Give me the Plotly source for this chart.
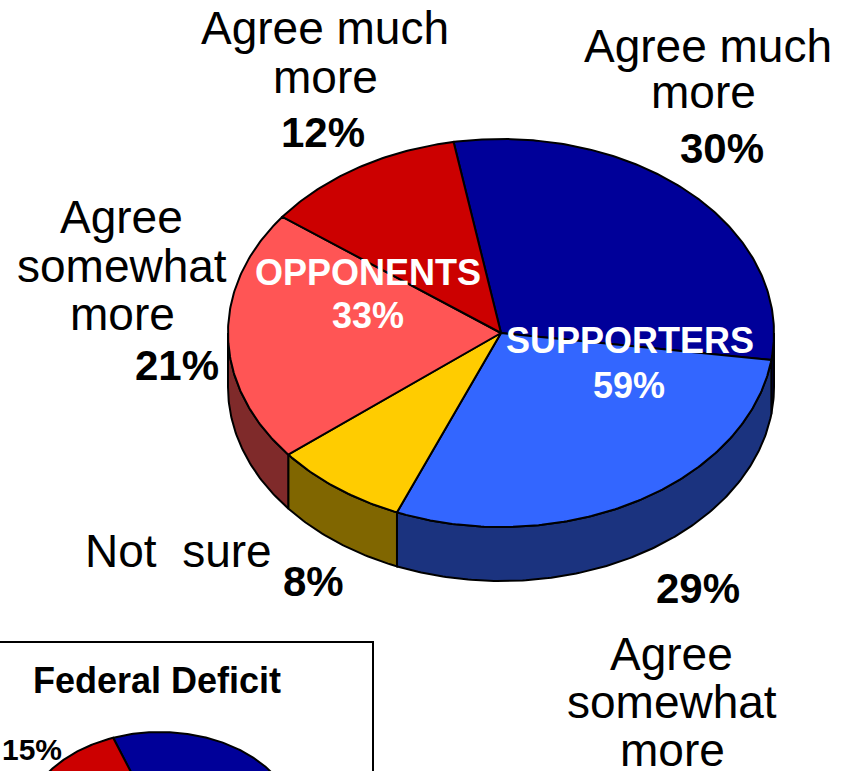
import numpy as np
import plotly.graph_objects as go

# ---- main pie data (clockwise from the top) ----
main_labels = ["Agree much more", "Agree somewhat more", "Not sure",
               "Agree somewhat more", "Agree much more"]
main_values = [30, 29, 8, 21, 12]
main_top_colors = ["#000099", "#3366FF", "#FFCC00", "#FF5555", "#CC0000"]
main_side_colors = ["#00005C", "#1B337F", "#806600", "#7F2A2A", "#660000"]

group_labels = ["SUPPORTERS", "OPPONENTS"]
group_values = [59, 33]

# ---- inset pie data ----
inset_title = "Federal Deficit"
inset_values = [54, 31, 15]
inset_top_colors = ["#000099", "#FF5555", "#CC0000"]
inset_side_colors = ["#00005C", "#7F2A2A", "#660000"]

W, H = 841, 771
FONT = "Liberation Sans, Arial, sans-serif"


def pie3d(fig, values, tops, sides, cx, cy, rx, ry, depth, start):
    """Tilted pie: top faces plus the visible front rim."""
    total = float(sum(values))
    edges = [start]
    for v in values:
        edges.append(edges[-1] - 360.0 * v / total)

    def arc(a, b, dy=0.0, n=None):
        n = n or max(4, int(abs(a - b) * 1.5))
        t = np.radians(np.linspace(a, b, n))
        return cx + rx * np.cos(t), cy - ry * np.sin(t) + dy

    # rim: only where the edge faces the viewer (sin t <= 0)
    for i in range(len(values)):
        s, e = edges[i], edges[i + 1]
        for k in (-1, 0, 1):
            lo = max(e, -180 + 360 * k)
            hi = min(s, 0 + 360 * k)
            if hi - lo > 1e-6:
                x1, y1 = arc(hi, lo)
                x2, y2 = arc(lo, hi, dy=depth)
                xs = np.concatenate([x1, x2, x1[:1]])
                ys = np.concatenate([y1, y2, y1[:1]])
                fig.add_trace(go.Scatter(
                    x=xs, y=ys, mode="lines", fill="toself",
                    fillcolor=sides[i], line=dict(color="black", width=2),
                    hoverinfo="skip", showlegend=False))
    # top faces
    for i in range(len(values)):
        x1, y1 = arc(edges[i], edges[i + 1])
        xs = np.concatenate([[cx], x1, [cx]])
        ys = np.concatenate([[cy], y1, [cy]])
        fig.add_trace(go.Scatter(
            x=xs, y=ys, mode="lines", fill="toself",
            fillcolor=tops[i], line=dict(color="black", width=2),
            hoverinfo="skip", showlegend=False))


fig = go.Figure()

# inset frame
fig.add_shape(type="rect", x0=-3, y0=642, x1=373, y1=H + 5,
              line=dict(color="black", width=2), fillcolor="white", layer="below")

pie3d(fig, main_values, main_top_colors, main_side_colors,
      cx=501, cy=333, rx=273, ry=194, depth=54, start=100)
pie3d(fig, inset_values, inset_top_colors, inset_side_colors,
      cx=160, cy=828, rx=137, ry=96, depth=27, start=110)

annotations = []


def label(text, x, baseline, size, bold=False, color="black", anchor="center"):
    t = f"<b>{text}</b>" if bold else text
    annotations.append(dict(
        text=t, x=x, y=baseline - 0.35 * size, xref="x", yref="y",
        xanchor=anchor, yanchor="middle", showarrow=False,
        font=dict(family=FONT, size=size, color=color)))


L, B, G = 46, 42, 36
# top-left slice
label("Agree much", 325, 44, L)
label("more", 325, 93, L)
label(f"{main_values[4]}%", 323, 147, B, bold=True)
# top-right slice
label("Agree much", 708, 62, L)
label("more", 703, 108, L)
label(f"{main_values[0]}%", 722, 163, B, bold=True)
# left slice
label("Agree", 121, 233, L)
label("somewhat", 122, 282, L)
label("more", 122, 330, L)
label(f"{main_values[3]}%", 177, 380, B, bold=True)
# not sure
label("Not&nbsp;&nbsp;sure", 178, 567, L)
label(f"{main_values[2]}%", 313, 596, B, bold=True)
# bottom-right slice
label(f"{main_values[1]}%", 698, 603, B, bold=True)
label("Agree", 671, 670, L)
label("somewhat", 672, 718, L)
label("more", 672, 766, L)
# group totals
label(group_labels[1], 368, 285, G, bold=True, color="white")
label(f"{group_values[1]}%", 368, 328, G, bold=True, color="white")
label(group_labels[0], 630, 353, G, bold=True, color="white")
label(f"{group_values[0]}%", 629, 398, G, bold=True, color="white")
# inset
label(inset_title, 157, 693, 36, bold=True)
label(f"{inset_values[2]}%", 32, 760, 30, bold=True)
label(f"{inset_values[0]}%", 321, 786, 30, bold=True)
label("OPPONENTS", 64, 784, 24, bold=True, color="white", anchor="left")

fig.update_layout(
    width=W, height=H, margin=dict(l=0, r=0, t=0, b=0),
    paper_bgcolor="white", plot_bgcolor="white",
    xaxis=dict(range=[0, W], visible=False, fixedrange=True),
    yaxis=dict(range=[H, 0], visible=False, fixedrange=True),
    annotations=annotations, showlegend=False,
)

fig.write_html("out.html", config={"displayModeBar": False})
